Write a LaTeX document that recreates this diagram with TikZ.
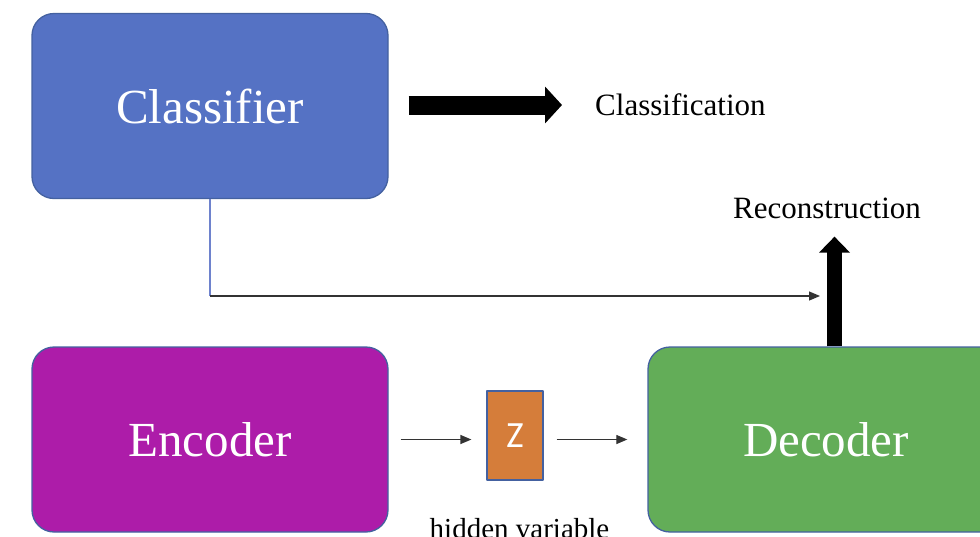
\documentclass[tikz,border=0pt]{standalone}
\usepackage{fontspec}
\setmainfont{Liberation Serif}
\newfontfamily\calfont{Carlito}
\usetikzlibrary{arrows.meta}

\definecolor{edgeblue}{RGB}{68,97,160}
\definecolor{clsblue}{RGB}{85,114,196}
\definecolor{encpurple}{RGB}{173,28,169}
\definecolor{decgreen}{RGB}{99,173,88}
\definecolor{zorange}{RGB}{213,125,58}
\definecolor{linkblue}{RGB}{110,130,205}

\begin{document}
\begin{tikzpicture}[x=1pt,y=-1pt,line join=round,
  block/.style={draw=edgeblue,line width=1.3pt,rounded corners=22pt,
    minimum width=356pt,minimum height=185pt,inner sep=0pt,
    text=white,font=\fontsize{49}{55}\selectfont},
  label/.style={inner sep=0pt,font=\fontsize{31}{36}\selectfont},
  thin/.style={line width=1.2pt,draw=black!80,-{Triangle[length=11pt,width=9pt]}},
  fat/.style={line width=#1,line cap=butt}]
\useasboundingbox (0,0) rectangle (980,536);

\node[block,fill=clsblue] (cls) at (210,106) {Classifier};
\node[block,fill=encpurple] (enc) at (210,439.5) {Encoder};
\node[block,fill=decgreen] (dec) at (826,439.5) {Decoder};
\node[draw=edgeblue,line width=1.2pt,fill=zorange,minimum width=56pt,minimum height=89pt,
  inner sep=0pt,text=white,font=\calfont\fontsize{37}{42}\selectfont] (z) at (515,435.5) {Z};

\node[label,anchor=west] (clsf) at (595,105) {Classification};
\node[label] (rec) at (827,208) {Reconstruction};
\node[label,anchor=base,font=\fontsize{29}{34}\selectfont] (hid) at (519.5,538) {hidden variable};

% block arrows
\draw[fat=19pt,-{Triangle[length=17pt,width=36pt]},shorten <=20pt,shorten >=33pt]
  (cls.east |- clsf.west) -- (clsf.west);
\draw[fat=15pt,-{Triangle[length=16pt,width=30pt]},shorten >=18pt]
  ([xshift=8.5pt]dec.north) -- ([xshift=8.5pt]dec.north |- rec.south);

% classifier feeds the reconstruction
\coordinate (elbow) at (cls.south |- 0,296);
\coordinate (recin) at (820,296);
\draw[line width=1.2pt,draw=linkblue] (cls.south) -- (elbow);
\draw[thin] (elbow) -- (recin);

\draw[thin,shorten <=12pt,shorten >=15pt] (enc.east) -- (enc.east -| z.west);
\draw[thin,shorten <=13pt,shorten >=20pt] (z.east |- enc.east) -- (dec.west);
\end{tikzpicture}
\end{document}
